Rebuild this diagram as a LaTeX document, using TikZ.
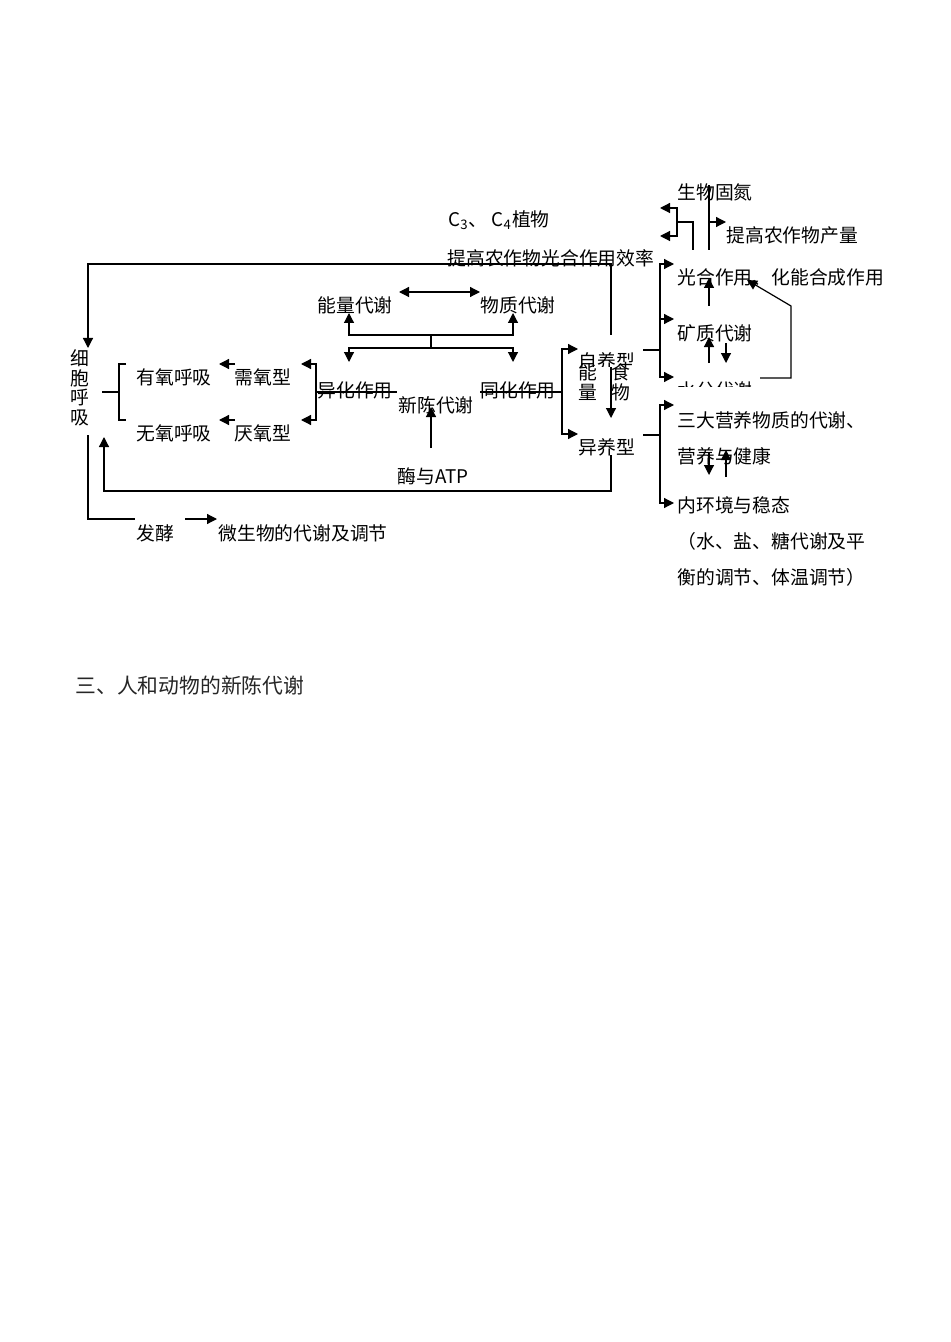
\documentclass[tikz,border=0pt]{standalone}
\usepackage{fontspec}
\setmainfont{Noto Sans CJK SC}
\usetikzlibrary{arrows.meta}
\begin{document}
\begin{tikzpicture}[x=0.5pt,y=-0.5pt,
  every node/.style={inner sep=0pt,font=\fontsize{9.4}{10}\selectfont},
  ln/.style={line width=0.6pt},
  ar/.style={line width=0.6pt,-{Triangle[length=5pt,width=5pt]}},
  w/.style={anchor=west},
  vt/.style={align=center,font=\fontsize{9.4}{9.8}\selectfont}]
\useasboundingbox (0,0) rectangle (950,1342);
% left part
\node[vt] (xbhx) at (80,388) {细\\胞\\呼\\吸};
\node (yyhx) at (174,377) {有氧呼吸};
\node (wyhx) at (174,433) {无氧呼吸};
\node (xyx) at (263,377) {需氧型};
\node (yyx) at (263,433) {厌氧型};
\node (yhzy) at (355,390) {异化作用};
\node (xcdx) at (436,405) {新陈代谢};
\node (thzy) at (518,390) {同化作用};
\node (nldx) at (355,305) {能量代谢};
\node (wzdx) at (518,305) {物质代谢};
\node (myatp) at (433,476) {酶与ATP};
\node (fj) at (155,533) {发酵};
\node[w] (wsw) at (218,533) {微生物的代谢及调节};
\node (yyx2) at (607,447) {异养型};
\node[vt] (nl) at (588,382) {能\\量};
\node[vt] (sw) at (621,382) {食\\物};
\begin{scope}
\clip (570,340) rectangle (650,366);
\node (zyx) at (607,361) {自养型};
\end{scope}
% right part
\node[w] (gh) at (677,277) {光合作用、化能合成作用};
\node[w] (kz) at (677,333) {矿质代谢};
\begin{scope}
\clip (670,372) rectangle (770,386);
\node[w] (sf) at (677,390) {水分代谢};
\end{scope}
\node[w] (swgd) at (677,192) {生物固氮};
\node[w] (tgcl) at (726,235) {提高农作物产量};
\node[w] (c34) at (448,220) {C\textsubscript{3}、 C\textsubscript{4}植物};
\node[w] (tgxl) at (447,258) {提高农作物光合作用效率};
\node[w] (sdyy) at (677,420) {三大营养物质的代谢、};
\node[w] (yyjk) at (677,456) {营养与健康};
\node[w] (nhj) at (677,505) {内环境与稳态};
\node[w] (sy1) at (677,541) {（水、盐、糖代谢及平};
\node[w] (sy2) at (677,577) {衡的调节、体温调节）};
\node[w,font=\fontsize{10.4}{12}\selectfont,text=black!85] (title) at (75,686) {三、人和动物的新陈代谢};
% connectors
\draw[ar] (611,335) -- (611,264) -- (88,264) -- (88,348);
\draw[ln] (88,435) -- (88,519) -- (135,519);
\draw[ar] (185,519) -- (217,519);
\draw[ar] (611,455) -- (611,491) -- (104,491) -- (104,437);
\draw[ln] (102,392) -- (119,392);
\draw[ln] (126,364) -- (119,364) -- (119,420) -- (126,420);
\draw[ar] (235,364) -- (219,364);
\draw[ar] (235,420) -- (219,420);
\draw[ar] (316,392) -- (316,364) -- (301,364);
\draw[ar] (316,392) -- (316,420) -- (301,420);
\draw[ln] (316,392) -- (397,392);
\draw[ln] (480,392) -- (562,392);
\draw[ar] (562,392) -- (562,349) -- (578,349);
\draw[ar] (562,392) -- (562,434) -- (578,434);
\draw[ar] (431,448) -- (431,407);
\draw[ln] (431,348) -- (431,335);
\draw[ar] (431,335) -- (349,335) -- (349,313);
\draw[ar] (431,335) -- (513,335) -- (513,313);
\draw[ar] (431,348) -- (349,348) -- (349,362);
\draw[ar] (431,348) -- (513,348) -- (513,362);
\draw[{Triangle[length=5pt,width=5pt]}-{Triangle[length=5pt,width=5pt]},line width=0.6pt] (399,292) -- (480,292);
\draw[ar] (611,367) -- (611,418);
% right brackets
\draw[ln] (643,350) -- (660,350);
\draw[ar] (660,350) -- (660,264) -- (674,264);
\draw[ar] (660,350) -- (660,319) -- (674,319);
\draw[ar] (660,350) -- (660,377) -- (674,377);
\draw[ar] (709,306) -- (709,278);
\draw[ar] (709,363) -- (709,337);
\draw[ar] (726,343) -- (726,363);
\draw[ar] (760,378) -- (791,378) -- (791,306) -- (747,280);
\draw[ln] (693,250) -- (693,222) -- (677,222);
\draw[ar] (677,222) -- (677,208) -- (660,208);
\draw[ar] (677,222) -- (677,236) -- (660,236);
\draw[ln] (709,250) -- (709,185);
\draw[ar] (709,222) -- (726,222);
\draw[ln] (643,435) -- (660,435);
\draw[ar] (660,435) -- (660,405) -- (674,405);
\draw[ar] (660,435) -- (660,503) -- (674,503);
\draw[ar] (709,452) -- (709,475);
\draw[ar] (726,477) -- (726,450);
\end{tikzpicture}
\end{document}
